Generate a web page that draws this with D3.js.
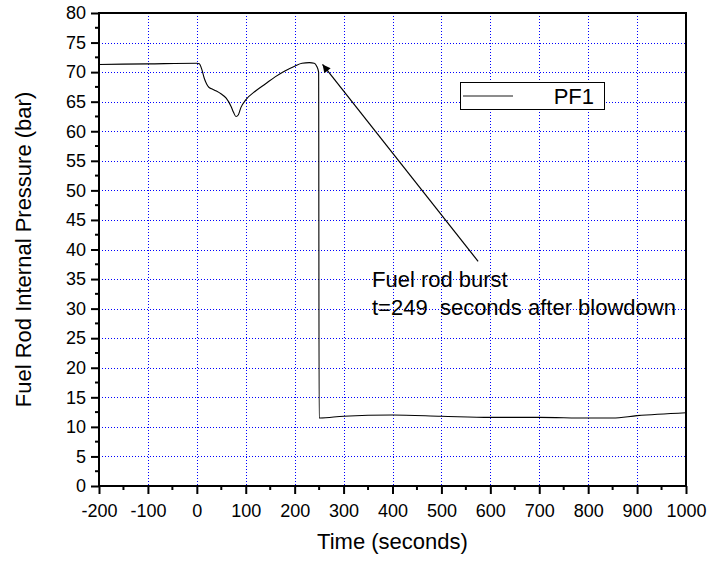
<!DOCTYPE html>
<html>
<head>
<meta charset="utf-8">
<script src="https://cdn.jsdelivr.net/npm/d3@7"></script>
<style>
  html, body { margin: 0; padding: 0; background: #fff; }
  svg { display: block; font-family: "Liberation Sans", Arial, sans-serif; }
</style>
</head>
<body>
<svg id="chart" width="710" height="563"></svg>
<script>
// ---- data ----
const timeSeconds = [-200, -100, 0, 5, 10, 15, 20, 25, 30, 40, 50, 60, 70, 75, 80, 85, 90, 100, 120, 140, 160, 180, 200, 215, 230, 240, 245, 249, 250, 252, 300, 400, 500, 600, 700, 800, 850, 900, 1000];
const pressureBar = [71.3, 71.4, 71.5, 71.4, 70.5, 69.0, 68.0, 67.4, 67.2, 66.8, 66.3, 65.6, 64.2, 63.2, 62.5, 62.8, 64.0, 65.3, 66.8, 68.0, 69.2, 70.2, 71.0, 71.5, 71.6, 71.5, 71.0, 70.0, 11.5, 11.5, 11.8, 12.0, 11.8, 11.6, 11.6, 11.5, 11.5, 11.9, 12.4];
const xTicks = [-200, -100, 0, 100, 200, 300, 400, 500, 600, 700, 800, 900, 1000];
const yTicks = [0, 5, 10, 15, 20, 25, 30, 35, 40, 45, 50, 55, 60, 65, 70, 75, 80];
const seriesName = "PF1";
const annotationLines = ["Fuel rod burst", "t=249  seconds after blowdown"];
const arrowFrom = [575, 38];  // data coords (time, pressure) of arrow tail
const arrowTo = [257, 71.3];  // data coords of arrow tip

const svg = d3.select("#chart");
const L = 99, R = 686, T = 13, B = 486;
const x = d3.scaleLinear().domain([-200, 1000]).range([L, R]);
const y = d3.scaleLinear().domain([0, 80]).range([B, T]);

// grid
const grid = svg.append("g").attr("stroke", "#0000ff").attr("stroke-width", 1).attr("stroke-dasharray", "1,2");
xTicks.slice(1, -1).forEach(v => {
  grid.append("line").attr("x1", Math.round(x(v)) + 0.5).attr("x2", Math.round(x(v)) + 0.5).attr("y1", T).attr("y2", B);
});
yTicks.slice(1, -1).forEach(v => {
  grid.append("line").attr("y1", Math.round(y(v)) + 0.5).attr("y2", Math.round(y(v)) + 0.5).attr("x1", L).attr("x2", R);
});

// minor ticks
const xMinor = d3.range(-150, 1000, 100);
const yMinor = d3.range(2.5, 80, 5);

// axes
const xAxis = d3.axisBottom(x).tickValues(xTicks).tickSize(8).tickPadding(6).tickFormat(d => String(d));
const yAxis = d3.axisLeft(y).tickValues(yTicks).tickSize(8).tickPadding(5).tickFormat(d => String(d));
const gx = svg.append("g").attr("transform", `translate(0,${B})`).call(xAxis);
const gy = svg.append("g").attr("transform", `translate(${L},0)`).call(yAxis);
[gx, gy].forEach(g => {
  g.select(".domain").remove();
  g.selectAll(".tick line").attr("stroke", "#000").attr("stroke-width", 2);
  g.selectAll(".tick text").attr("fill", "#000").style("font-size", "18px")
    .style("font-family", "'Liberation Sans', Arial, sans-serif");
});
gx.selectAll(".tick text").attr("dy", "0.95em");
svg.append("g").selectAll("line").data(xMinor).join("line")
  .attr("x1", d => x(d)).attr("x2", d => x(d)).attr("y1", B).attr("y2", B + 4)
  .attr("stroke", "#000").attr("stroke-width", 2);
svg.append("g").selectAll("line").data(yMinor).join("line")
  .attr("y1", d => y(d)).attr("y2", d => y(d)).attr("x1", L).attr("x2", L - 4)
  .attr("stroke", "#000").attr("stroke-width", 2);

// frame
svg.append("rect").attr("x", L).attr("y", T).attr("width", R - L).attr("height", B - T)
  .attr("fill", "none").attr("stroke", "#000").attr("stroke-width", 2);

// series line
const line = d3.line().x((d, i) => x(timeSeconds[i])).y(d => y(d)).curve(d3.curveMonotoneX);
svg.append("path").datum(pressureBar).attr("d", line)
  .attr("fill", "none").attr("stroke", "#000").attr("stroke-width", 1.1);

// axis titles
svg.append("text").attr("x", (L + R) / 2).attr("y", 549).attr("text-anchor", "middle")
  .style("font-size", "22px").text("Time (seconds)");
svg.append("text").attr("transform", `translate(31,${(T + B) / 2}) rotate(-90)`).attr("text-anchor", "middle")
  .style("font-size", "22px").text("Fuel Rod Internal Pressure (bar)");

// legend
const lg = svg.append("g");
lg.append("rect").attr("x", 460.5).attr("y", 82.5).attr("width", 144).attr("height", 27)
  .attr("fill", "#fff").attr("stroke", "#000").attr("stroke-width", 1);
lg.append("line").attr("x1", 463).attr("x2", 513).attr("y1", 96).attr("y2", 96)
  .attr("stroke", "#666").attr("stroke-width", 1.5);
lg.append("text").attr("x", 594).attr("y", 104).attr("text-anchor", "end")
  .style("font-size", "22px").text(seriesName);

// annotation arrow
svg.append("defs").append("marker").attr("id", "ah").attr("viewBox", "0 0 10 10")
  .attr("refX", 10).attr("refY", 5).attr("markerWidth", 14).attr("markerHeight", 8)
  .attr("markerUnits", "userSpaceOnUse").attr("orient", "auto")
  .append("path").attr("d", "M0,0 L10,5 L0,10 z").attr("fill", "#000");
svg.append("line").attr("x1", x(arrowFrom[0])).attr("y1", y(arrowFrom[1]))
  .attr("x2", x(arrowTo[0])).attr("y2", y(arrowTo[1]))
  .attr("stroke", "#000").attr("stroke-width", 1.2).attr("marker-end", "url(#ah)");

// annotation text
const at = svg.append("text").style("font-size", "22px");
annotationLines.forEach((s, i) => {
  at.append("tspan").attr("x", 372).attr("y", 287 + i * 28).attr("xml:space", "preserve").text(s);
});
</script>
</body>
</html>
